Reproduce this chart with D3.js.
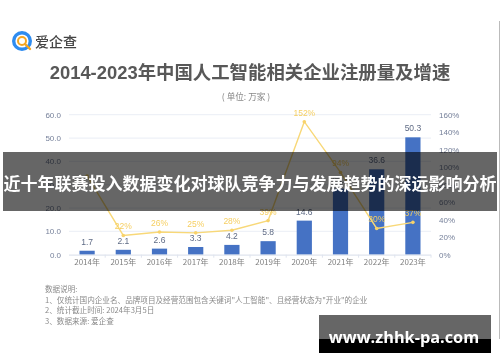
<!DOCTYPE html>
<html>
<head>
<meta charset="utf-8">
<script src="https://cdn.jsdelivr.net/npm/d3@7"></script>
<style>
  html, body { margin: 0; padding: 0; background: #fff; }
  svg { display: block; }
  text { font-family: "Noto Sans CJK SC", "Noto Sans", sans-serif; }
  .num { font-family: "Liberation Sans", sans-serif; }
  .title { font-family: "Liberation Sans", "Noto Sans CJK SC", sans-serif; }
  .domain { display: none; }
</style>
</head>
<body>
<div id="chart"></div>
<script>
const years = ["2014年", "2015年", "2016年", "2017年", "2018年", "2019年", "2020年", "2021年", "2022年", "2023年"]
const counts = [1.7, 2.1, 2.6, 3.3, 4.2, 5.8, 14.6, 28.3, 36.6, 50.3]
const growth = [90, 22, 26, 25, 28, 39, 152, 94, 30, 37]
const countTicks = [0, 10, 20, 30, 40, 50, 60]
const growthTicks = [0, 20, 40, 60, 80, 100, 120, 140, 160]
const notes = [
  "数据说明:",
  "1、仅统计国内企业名、品牌项目及经营范围包含关键词\"人工智能\"、且经营状态为\"开业\"的企业",
  "2、统计截止时间:  2024年3月5日",
  "3、数据来源:  爱企查"
]

const
  width = 500,
  height = 362,
  plotLeft = 69,
  plotRight = 431,
  plotTop = 114.7,
  plotBottom = 254.7

let svg = d3.select("#chart")
  .append("svg")
    .attr("width", width)
    .attr("height", height)

let defs = svg.append("defs")
defs.append("filter").attr("id", "soft")
  .attr("x", "-5%").attr("y", "-5%").attr("width", "110%").attr("height", "110%")
  .append("feGaussianBlur").attr("stdDeviation", 0.45)

let page = svg.append("g").attr("filter", "url(#soft)")

let
  xScale = d3.scaleBand().domain(years).range([plotLeft, plotRight]).paddingInner(0.58).paddingOuter(0.29),
  yScale = d3.scaleLinear().domain([0, 60]).range([plotBottom, plotTop]),
  yGrowth = d3.scaleLinear().domain([0, 160]).range([plotBottom, plotTop]),
  xCenter = d => xScale(d) + xScale.bandwidth() / 2

// edge of the photographed page
page.append("line")
  .attr("x1", 499.5).attr("x2", 499.5)
  .attr("y1", 21).attr("y2", 339)
  .attr("stroke", "#bbb")

// logo
let logo = page.append("g").attr("transform", "translate(22,41)")
logo.append("path")
  .attr("d", d3.arc()({innerRadius: 6.6, outerRadius: 10, startAngle: 0, endAngle: Math.PI * 2}))
  .attr("fill", "#2f8cf0")
logo.append("path")
  .attr("d", d3.arc()({innerRadius: 3, outerRadius: 5, startAngle: 0, endAngle: Math.PI * 2}))
  .attr("fill", "#f5a623")
logo.append("line")
  .attr("x1", 3).attr("y1", 3).attr("x2", 8).attr("y2", 8)
  .attr("stroke", "#f5a623").attr("stroke-width", 2.4).attr("stroke-linecap", "round")
page.append("text")
  .attr("x", 35).attr("y", 46.5)
  .attr("font-size", 14).attr("font-weight", 500).attr("fill", "#444")
  .text("爱企查")

// title
page.append("text")
  .attr("class", "title")
  .attr("x", 250).attr("y", 79)
  .attr("text-anchor", "middle")
  .attr("font-size", 18.4).attr("font-weight", 700).attr("fill", "#585858")
  .text("2014-2023年中国人工智能相关企业注册量及增速")
page.append("text")
  .attr("x", 246).attr("y", 99.5)
  .attr("text-anchor", "middle")
  .attr("font-size", 8.6).attr("fill", "#888")
  .text("( 单位: 万家 )")

// left axis with grid
let yAxisSvg = page.append("g")
  .attr("transform", "translate(" + plotLeft + ",0)")
  .call(d3.axisLeft(yScale).tickValues(countTicks).tickFormat(d3.format(".1f")).tickSize(0).tickPadding(8))
yAxisSvg.selectAll("text").attr("class", "num").attr("font-size", 8).attr("fill", "#76809a")

page.append("g")
  .selectAll("line")
  .data(countTicks.slice(1))
  .enter()
  .append("line")
  .attr("x1", plotLeft).attr("x2", plotRight)
  .attr("y1", d => yScale(d)).attr("y2", d => yScale(d))
  .attr("stroke", "#eef1f7").attr("stroke-width", 1.2)

// right axis
let yAxisRight = page.append("g")
  .attr("transform", "translate(" + plotRight + ",0)")
  .call(d3.axisRight(yGrowth).tickValues(growthTicks).tickFormat(d => d + "%").tickSize(0).tickPadding(8))
yAxisRight.selectAll("text").attr("class", "num").attr("font-size", 8).attr("fill", "#76809a")

// bars
page.append("g")
  .selectAll("rect")
  .data(counts)
  .enter()
  .append("rect")
  .attr("x", (d, i) => xScale(years[i]))
  .attr("y", d => yScale(d))
  .attr("width", xScale.bandwidth())
  .attr("height", d => plotBottom - yScale(d))
  .attr("fill", "#4472c4")

// x axis
page.append("line")
  .attr("x1", plotLeft).attr("x2", plotRight)
  .attr("y1", plotBottom + 0.5).attr("y2", plotBottom + 0.5)
  .attr("stroke", "#dfe4ee").attr("stroke-width", 1.2)
page.append("g")
  .selectAll("line")
  .data(years)
  .enter()
  .append("line")
  .attr("x1", d => xCenter(d) + xScale.step() / 2)
  .attr("x2", d => xCenter(d) + xScale.step() / 2)
  .attr("y1", plotBottom).attr("y2", plotBottom + 3)
  .attr("stroke", "#dfe4ee")
let xAxisSvg = page.append("g")
  .attr("transform", "translate(0," + plotBottom + ")")
  .call(d3.axisBottom(xScale).tickSize(0).tickPadding(5))
xAxisSvg.selectAll("text").attr("font-size", 8).attr("fill", "#808080")

// bar labels
page.append("g")
  .selectAll("text")
  .data(counts)
  .enter()
  .append("text")
  .attr("class", "num")
  .attr("x", (d, i) => xCenter(years[i]))
  .attr("y", d => yScale(d) - 6)
  .attr("text-anchor", "middle")
  .attr("font-size", 8.5).attr("fill", "#5f6b85")
  .text(d => d.toFixed(1))

// growth line
let line = d3.line()
  .x((d, i) => xCenter(years[i]))
  .y(d => yGrowth(d))
page.append("path")
  .attr("d", line(growth))
  .attr("fill", "none")
  .attr("stroke", "#f8d878")
  .attr("stroke-width", 1.4)
page.append("g")
  .selectAll("circle")
  .data(growth)
  .enter()
  .append("circle")
  .attr("cx", (d, i) => xCenter(years[i]))
  .attr("cy", d => yGrowth(d))
  .attr("r", 1.8)
  .attr("fill", "#f8d26a")
// the 2014 label can't be seen under the banner in the reference
page.append("g")
  .selectAll("text")
  .data(growth.slice(1))
  .enter()
  .append("text")
  .attr("class", "num")
  .attr("x", (d, i) => xCenter(years[i + 1]))
  .attr("y", d => yGrowth(d) - 6)
  .attr("text-anchor", "middle")
  .attr("font-size", 8.5).attr("fill", "#f6cf62")
  .text(d => d + "%")

// notes
page.append("g")
  .selectAll("text")
  .data(notes)
  .enter()
  .append("text")
  .attr("x", 45)
  .attr("y", (d, i) => 292 + i * 10.5)
  .attr("font-size", 7.6).attr("fill", "#8a8a8a")
  .text(d => d)

// overlay banner
svg.append("rect")
  .attr("x", 3).attr("y", 152)
  .attr("width", 494).attr("height", 59)
  .attr("fill", "#000").attr("fill-opacity", 0.6)
svg.append("text")
  .attr("x", 250).attr("y", 190)
  .attr("text-anchor", "middle")
  .attr("font-size", 17).attr("font-weight", 700).attr("fill", "#fff")
  .text("近十年联赛投入数据变化对球队竞争力与发展趋势的深远影响分析")

// site watermark
svg.append("rect")
  .attr("x", 319).attr("y", 315)
  .attr("width", 172).attr("height", 24)
  .attr("fill", "#666")
svg.append("rect")
  .attr("x", 319).attr("y", 339)
  .attr("width", 172).attr("height", 14)
  .attr("fill", "#000")
svg.append("text")
  .attr("x", 404).attr("y", 343)
  .attr("text-anchor", "middle")
  .style("font-family", "'Open Sans', sans-serif")
  .attr("font-size", 16.3).attr("font-weight", 700).attr("fill", "#fff")
  .text("www.zhhk-pa.com")
</script>
</body>
</html>
